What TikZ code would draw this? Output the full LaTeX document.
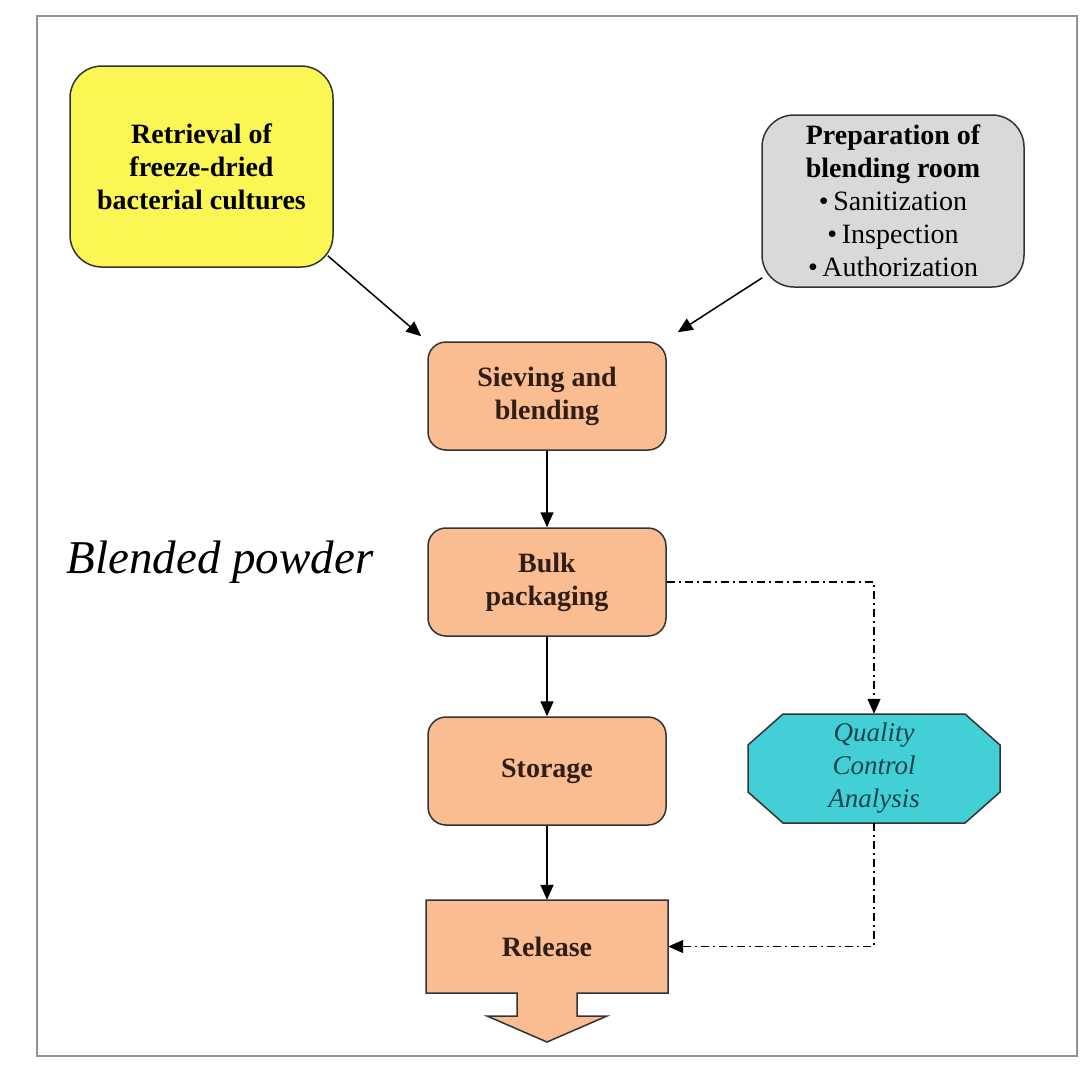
\documentclass[tikz,border=0pt]{standalone}
\usepackage{fontspec}
\setmainfont{Liberation Serif}
\usepackage{xcolor}
\usepackage{tikz}
\usetikzlibrary{arrows.meta,calc}
\definecolor{culture-yellow}{RGB}{250,246,84}
\definecolor{process-peach}{RGB}{250,188,145}
\definecolor{process-text}{RGB}{48,30,22}
\definecolor{room-gray}{RGB}{217,217,217}
\definecolor{qc-cyan}{RGB}{66,208,214}
\definecolor{qc-text}{RGB}{22,66,78}
\newcommand{\boxfont}{\fontsize{28}{33}\selectfont\bfseries}

\begin{document}
\begin{tikzpicture}[x=1pt, y=-1pt, >={Triangle[length=15pt,width=13pt]},
    procbox/.style={draw=black!80, line width=1.5pt, rounded corners=18pt, fill=process-peach, minimum width=238pt, minimum height=108pt, align=center, text=process-text, font=\boxfont},
    inbox/.style={draw=black!80, line width=1.5pt, rounded corners=32pt, align=center, font=\boxfont},
    flow/.style={->, line width=1.5pt},
    qcflow/.style={->, line width=1.3pt, dash pattern=on 8pt off 4pt on 2pt off 4pt}]
    \useasboundingbox (0,0) rectangle (1089,1066);
    \fill[white] (0,0) rectangle (1089,1066);
    \draw[gray!85, line width=2.5pt] (37,16) rectangle (1077,1056);

    \node[inbox, fill=culture-yellow, minimum width=263pt, minimum height=201pt] (retrieval) at (201.5,166.5) {Retrieval of\\freeze-dried\\bacterial cultures};
    \node[inbox, fill=room-gray, minimum width=262pt, minimum height=172pt] (prep) at (893,201) {Preparation of\\blending room\\{\mdseries\textbullet\,Sanitization}\\{\mdseries\textbullet\,Inspection}\\{\mdseries\textbullet\,Authorization}};
    \node[procbox] (sieving) at (547,396) {Sieving and\\blending};
    \node[procbox] (bulk) at (547,582) {Bulk\\packaging};
    \node[procbox] (storage) at (547,771) {Storage};

    % release box with its outlet arrow
    \draw[draw=black!80, line width=1.5pt, fill=process-peach] (426,900) -- (668,900) -- (668,993) -- (577,993) -- (577,1016) -- (607,1016) -- (547,1042) -- (487,1016) -- (517,1016) -- (517,993) -- (426,993) -- cycle;
    \node[minimum width=242pt, minimum height=93pt, text=process-text, font=\boxfont] (release) at (547,946.5) {Release};

    % octagon for the QC step
    \draw[draw=black!80, line width=1.5pt, fill=qc-cyan] (783,714) -- (965,714) -- (1000,745) -- (1000,792) -- (965,823) -- (783,823) -- (748,792) -- (748,745) -- cycle;
    \node[minimum width=252pt, minimum height=109pt, align=center, text=qc-text, font=\fontsize{27}{33}\selectfont\itshape] (qc) at (874,768.5) {Quality\\Control\\Analysis};

    \node[font=\fontsize{47}{56}\selectfont\itshape] (blended) at (220,562) {Blended powder};

    \draw[flow] ($(retrieval.south east)+(-6,-12)$) -- ($(sieving.north west)+(-6,-5)$);
    \draw[flow] ($(prep.south west)+(1,-10)$) -- ($(sieving.north east)+(11,-9)$);
    \draw[flow] (sieving) -- (bulk);
    \draw[flow] (bulk) -- (storage);
    \draw[flow] (storage) -- (release);
    \draw[qcflow] (bulk.east) -| (qc.north);
    \draw[qcflow] (qc.south) |- (release.east);
\end{tikzpicture}
\end{document}
